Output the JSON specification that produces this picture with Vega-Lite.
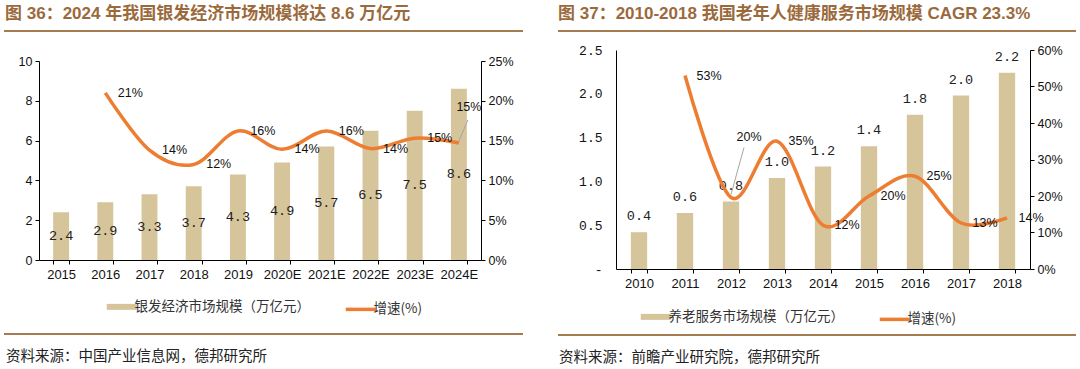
{
  "$schema": "https://vega.github.io/schema/vega-lite/v6.json",
  "padding": {"left": 2, "top": 5, "right": 0, "bottom": 0},
  "background": "white",
  "config": {
    "view": {"stroke": null},
    "axis": {"labelFont": "Liberation Sans", "labelFontSize": 12.5, "labelColor": "#111", "domainColor": "#000", "tickColor": "#000", "grid": false}
  },
  "spacing": 32,
  "resolve": {"scale": {"color": "independent", "x": "independent", "y": "independent"}, "legend": {"color": "independent"}},
  "hconcat": [
    {
      "spacing": 10,
      "resolve": {"scale": {"color": "independent", "x": "independent", "y": "independent"}, "legend": {"color": "independent"}},
      "vconcat": [
        {
          "width": 442, "height": 14,
          "data": {"values": [{"k": 1}]},
          "title": {"text": "图 36：2024 年我国银发经济市场规模将达 8.6 万亿元", "anchor": "start", "frame": "group", "dx": -34, "offset": 7, "font": "Liberation Sans, Noto Sans CJK SC", "fontSize": 17, "fontWeight": "bold", "color": "#9B6A3C"},
          "mark": {"type": "rule", "color": "#A57C52", "strokeWidth": 2},
          "encoding": {
            "x": {"datum": -0.0792, "type": "quantitative", "scale": {"domain": [0, 1], "nice": false}, "axis": null},
            "x2": {"datum": 1.095},
            "y": {"datum": 1, "type": "quantitative", "scale": {"domain": [0, 1]}, "axis": null}
          }
        },
        {
          "width": 442, "height": 199,
          "data": {"values": [
            {"year": "2015", "size": 2.4, "rate": null},
            {"year": "2016", "size": 2.9, "rate": 0.21},
            {"year": "2017", "size": 3.3, "rate": 0.138},
            {"year": "2018", "size": 3.7, "rate": 0.12},
            {"year": "2019", "size": 4.3, "rate": 0.162},
            {"year": "2020E", "size": 4.9, "rate": 0.139},
            {"year": "2021E", "size": 5.7, "rate": 0.162},
            {"year": "2022E", "size": 6.5, "rate": 0.14},
            {"year": "2023E", "size": 7.5, "rate": 0.153},
            {"year": "2024E", "size": 8.6, "rate": 0.147}
          ]},
          "encoding": {
            "x": {"field": "year", "type": "nominal", "sort": null, "scale": {"paddingInner": 0.64, "paddingOuter": 0.32},
                  "axis": {"title": null, "labelAngle": 0, "tickBand": "extent", "tickSize": 4, "labelPadding": 4, "labelFontSize": 13}}
          },
          "layer": [
            {
              "mark": {"type": "bar", "color": "#D6C59B"},
              "encoding": {
                "y": {"field": "size", "type": "quantitative", "scale": {"domain": [0, 10], "nice": false},
                      "axis": {"title": null, "values": [0, 2, 4, 6, 8, 10], "tickSize": 4, "labelPadding": 3}},
                "color": {"datum": "银发经济市场规模（万亿元）", "type": "nominal",
                          "scale": {"domain": ["银发经济市场规模（万亿元）", "增速(%)"], "range": ["#D6C59B", "#ED7D31"]},
                          "legend": {"orient": "none", "legendX": 76, "legendY": 239, "direction": "horizontal", "title": null,
                                     "symbolType": "stroke", "symbolSize": 900, "symbolStrokeWidth": 6, "labelLimit": 400,
                                     "labelFont": "Noto Sans CJK SC", "labelFontSize": 13.5, "labelColor": "#333", "labelOffset": 6, "columnPadding": 28, "padding": 0,
                                     "encode": {"symbols": {"update": {"stroke": {"signal": "datum.index === 1 ? '#ED7D31' : '#D6C59B'"}, "strokeWidth": {"signal": "datum.index === 1 ? 3.5 : 6"}, "fill": {"value": "transparent"}}}}}}
              }
            },
            {
              "mark": {"type": "text", "font": "Liberation Mono", "fontSize": 13.5, "color": "#222", "baseline": "middle"},
              "encoding": {
                "y": {"field": "size", "type": "quantitative", "scale": {"domain": [0, 20], "nice": false}, "axis": null},
                "text": {"field": "size", "type": "quantitative", "format": ".1f"}
              }
            },
            {
              "encoding": {
                "y": {"field": "rate", "type": "quantitative", "scale": {"domain": [0, 0.25], "nice": false},
                      "axis": {"orient": "right", "title": null, "format": ".0%", "values": [0, 0.05, 0.1, 0.15, 0.2, 0.25], "tickSize": 4, "labelPadding": 3}}
              },
              "layer": [
                {
                  "mark": {"type": "line", "interpolate": "cardinal", "strokeWidth": 3.5, "color": "#ED7D31"},
                  "encoding": {"color": {"datum": "增速(%)", "type": "nominal"}}
                },
                {
                  "transform": [{"filter": "isValid(datum.rate) && datum.year != '2024E'"}],
                  "mark": {"type": "text", "dx": 25, "font": "Liberation Sans", "fontSize": 12.5, "color": "#111"},
                  "encoding": {"text": {"field": "rate", "type": "quantitative", "format": ".0%"}}
                },
                {
                  "transform": [{"filter": "datum.year == '2024E'"}],
                  "mark": {"type": "text", "dx": 10, "dy": -36, "font": "Liberation Sans", "fontSize": 12.5, "color": "#111"},
                  "encoding": {"text": {"field": "rate", "type": "quantitative", "format": ".0%"}}
                },
                {
                  "transform": [{"filter": "datum.year == '2024E'"}],
                  "mark": {"type": "rule", "color": "#A6A6A6", "strokeWidth": 1, "yOffset": -2, "x2Offset": 9, "y2Offset": -23},
                  "encoding": {"x2": {"field": "year"}, "y2": {"field": "rate"}}
                }
              ]
            }
          ],
          "resolve": {"scale": {"y": "independent"}}
        },
        {
          "width": 442, "height": 5,
          "data": {"values": [{"k": 1}]},
          "title": {"text": "资料来源：中国产业信息网，德邦研究所", "orient": "bottom", "anchor": "start", "frame": "group", "dx": -33, "offset": 15, "font": "Noto Sans CJK SC", "fontSize": 14.5, "fontWeight": "normal", "color": "#222"},
          "mark": {"type": "rule", "color": "#A57C52", "strokeWidth": 2},
          "encoding": {
            "x": {"datum": -0.0792, "type": "quantitative", "scale": {"domain": [0, 1], "nice": false}, "axis": null},
            "x2": {"datum": 1.095},
            "y": {"datum": 0, "type": "quantitative", "scale": {"domain": [0, 1]}, "axis": null}
          }
        }
      ]
    },
    {
      "spacing": 2,
      "resolve": {"scale": {"color": "independent", "x": "independent", "y": "independent"}, "legend": {"color": "independent"}},
      "vconcat": [
        {
          "width": 414, "height": 11,
          "data": {"values": [{"k": 1}]},
          "title": {"text": "图 37：2010-2018 我国老年人健康服务市场规模 CAGR 23.3%", "anchor": "start", "frame": "group", "dx": -58, "offset": 7, "font": "Liberation Sans, Noto Sans CJK SC", "fontSize": 17, "fontWeight": "bold", "color": "#9B6A3C"},
          "mark": {"type": "rule", "color": "#A57C52", "strokeWidth": 2},
          "encoding": {
            "x": {"datum": -0.1401, "type": "quantitative", "scale": {"domain": [0, 1], "nice": false}, "axis": null},
            "x2": {"datum": 1.1111},
            "y": {"datum": 1, "type": "quantitative", "scale": {"domain": [0, 1]}, "axis": null}
          }
        },
        {
          "width": 414, "height": 219,
          "data": {"values": [
            {"year": "2010", "size": 0.42, "rate": null},
            {"year": "2011", "size": 0.64, "rate": 0.53},
            {"year": "2012", "size": 0.77, "rate": 0.196},
            {"year": "2013", "size": 1.04, "rate": 0.35},
            {"year": "2014", "size": 1.17, "rate": 0.12},
            {"year": "2015", "size": 1.40, "rate": 0.20},
            {"year": "2016", "size": 1.76, "rate": 0.254},
            {"year": "2017", "size": 1.98, "rate": 0.126},
            {"year": "2018", "size": 2.24, "rate": 0.14}
          ]},
          "encoding": {
            "x": {"field": "year", "type": "nominal", "sort": null, "scale": {"paddingInner": 0.645, "paddingOuter": 0.3225},
                  "axis": {"title": null, "labelAngle": 0, "tickBand": "extent", "tickSize": 4, "labelPadding": 4, "labelFontSize": 13}}
          },
          "layer": [
            {
              "mark": {"type": "bar", "color": "#D6C59B"},
              "encoding": {
                "y": {"field": "size", "type": "quantitative", "scale": {"domain": [0, 2.5], "nice": false},
                      "axis": {"title": null,
                               "values": [0, 0.5, 1, 1.5, 2, 2.5], "labelExpr": "datum.value === 0 ? '-' : format(datum.value, '.1f')",
                               "labelFont": "Liberation Mono", "labelFontSize": 13, "tickSize": 0, "labelPadding": 14}},
                "color": {"datum": "养老服务市场规模（万亿元）", "type": "nominal",
                          "scale": {"domain": ["养老服务市场规模（万亿元）", "增速(%)"], "range": ["#D6C59B", "#ED7D31"]},
                          "legend": {"orient": "none", "legendX": 33, "legendY": 260, "direction": "horizontal", "title": null,
                                     "symbolType": "stroke", "symbolSize": 900, "symbolStrokeWidth": 6, "labelLimit": 400,
                                     "labelFont": "Noto Sans CJK SC", "labelFontSize": 13.5, "labelColor": "#333", "labelOffset": 6, "columnPadding": 28, "padding": 0,
                                     "encode": {"symbols": {"update": {"stroke": {"signal": "datum.index === 1 ? '#ED7D31' : '#D6C59B'"}, "strokeWidth": {"signal": "datum.index === 1 ? 3.5 : 6"}, "fill": {"value": "transparent"}}}}}}
              }
            },
            {
              "mark": {"type": "text", "font": "Liberation Mono", "fontSize": 13.5, "color": "#222", "baseline": "middle", "dy": -16},
              "encoding": {
                "y": {"field": "size", "type": "quantitative", "scale": {"domain": [0, 2.5], "nice": false}, "axis": null},
                "text": {"field": "size", "type": "quantitative", "format": ".1f"}
              }
            },
            {
              "encoding": {
                "y": {"field": "rate", "type": "quantitative", "scale": {"domain": [0, 0.6], "nice": false},
                      "axis": {"orient": "right", "title": null, "format": ".0%", "values": [0, 0.1, 0.2, 0.3, 0.4, 0.5, 0.6], "tickSize": 4, "labelPadding": 3}}
              },
              "layer": [
                {
                  "mark": {"type": "line", "interpolate": "cardinal", "strokeWidth": 3.5, "color": "#ED7D31"},
                  "encoding": {"color": {"datum": "增速(%)", "type": "nominal"}}
                },
                {
                  "transform": [{"filter": "isValid(datum.rate) && datum.year != '2012'"}],
                  "mark": {"type": "text", "dx": 24, "font": "Liberation Sans", "fontSize": 12.5, "color": "#111"},
                  "encoding": {"text": {"field": "rate", "type": "quantitative", "format": ".0%"}}
                },
                {
                  "transform": [{"filter": "datum.year == '2012'"}],
                  "mark": {"type": "text", "dx": 18, "dy": -60, "font": "Liberation Sans", "fontSize": 12.5, "color": "#111"},
                  "encoding": {"text": {"field": "rate", "type": "quantitative", "format": ".0%"}}
                },
                {
                  "transform": [{"filter": "datum.year == '2012'"}],
                  "mark": {"type": "rule", "color": "#A6A6A6", "strokeWidth": 1, "yOffset": -3, "x2Offset": 13, "y2Offset": -50},
                  "encoding": {"x2": {"field": "year"}, "y2": {"field": "rate"}}
                }
              ]
            }
          ],
          "resolve": {"scale": {"y": "independent"}}
        },
        {
          "width": 414, "height": 4,
          "data": {"values": [{"k": 1}]},
          "title": {"text": "资料来源：前瞻产业研究院，德邦研究所", "orient": "bottom", "anchor": "start", "frame": "group", "dx": -57, "offset": 15, "font": "Noto Sans CJK SC", "fontSize": 14.5, "fontWeight": "normal", "color": "#222"},
          "mark": {"type": "rule", "color": "#A57C52", "strokeWidth": 2},
          "encoding": {
            "x": {"datum": -0.1401, "type": "quantitative", "scale": {"domain": [0, 1], "nice": false}, "axis": null},
            "x2": {"datum": 1.1111},
            "y": {"datum": 0, "type": "quantitative", "scale": {"domain": [0, 1]}, "axis": null}
          }
        }
      ]
    }
  ]
}
